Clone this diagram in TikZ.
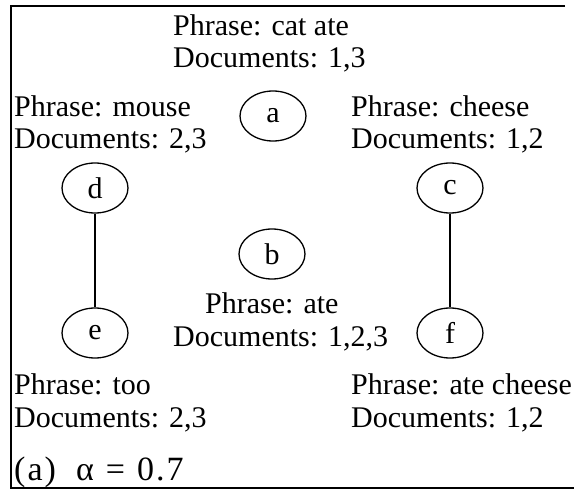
\documentclass[tikz,border=0pt]{standalone}
\usepackage{fontspec}
\setmainfont{Liberation Serif}
\usetikzlibrary{shapes.geometric}
\newfontfamily\widespaced[LetterSpace=6]{Liberation Serif}
\begin{document}
\begin{tikzpicture}[x=1pt,y=-1pt,
  vertex/.style={draw,ellipse,line width=1.3pt,minimum width=66pt,minimum height=50pt,inner sep=0pt,font=\fontsize{30}{34}\selectfont},
  info/.style={anchor=base west,inner sep=0pt,font=\fontsize{30}{34}\selectfont},
  capt/.style={anchor=base west,inner sep=0pt,font=\widespaced\fontsize{34}{38}\selectfont},
  edge/.style={line width=1.1pt},
  frame/.style={line width=2.5pt}]
\useasboundingbox (0,0) rectangle (574,490);
% open frame: left, top and bottom sides
\coordinate (tr) at (565,6);
\coordinate (tl) at (11,6);
\coordinate (bl) at (11,488);
\coordinate (br) at (574,488);
\draw[frame] (tr) -- (tl) -- (bl) -- (br);
% vertices
\node[vertex] (a) at (273,116) {a};
\node[vertex] (d) at (95,188) {d};
\node[vertex] (c) at (450,188) {c};
\node[vertex] (b) at (272,254) {b};
\node[vertex] (e) at (95,333) {e};
\node[vertex] (f) at (450,333) {f};
% edges
\draw[edge] (d) -- (e);
\draw[edge] (c) -- (f);
% phrase and document labels
\node[info] (ta1) at (173,35) {Phrase: cat ate};
\node[info] (ta2) at (173,67) {Documents: 1,3};
\node[info] (td1) at (14,116) {Phrase: mouse};
\node[info] (td2) at (14,148) {Documents: 2,3};
\node[info] (tc1) at (351,116) {Phrase: cheese};
\node[info] (tc2) at (351,148) {Documents: 1,2};
\node[info] (tb1) at (205,313) {Phrase: ate};
\node[info] (tb2) at (173,346) {Documents: 1,2,3};
\node[info] (te1) at (14,394) {Phrase: too};
\node[info] (te2) at (14,427) {Documents: 2,3};
\node[info] (tf1) at (351,394) {Phrase: ate cheese};
\node[info] (tf2) at (351,427) {Documents: 1,2};
\node[capt] (cap) at (14,480) {(a)\hspace{20pt}α\hspace{12pt}=\hspace{12pt}0.7};
\end{tikzpicture}
\end{document}
